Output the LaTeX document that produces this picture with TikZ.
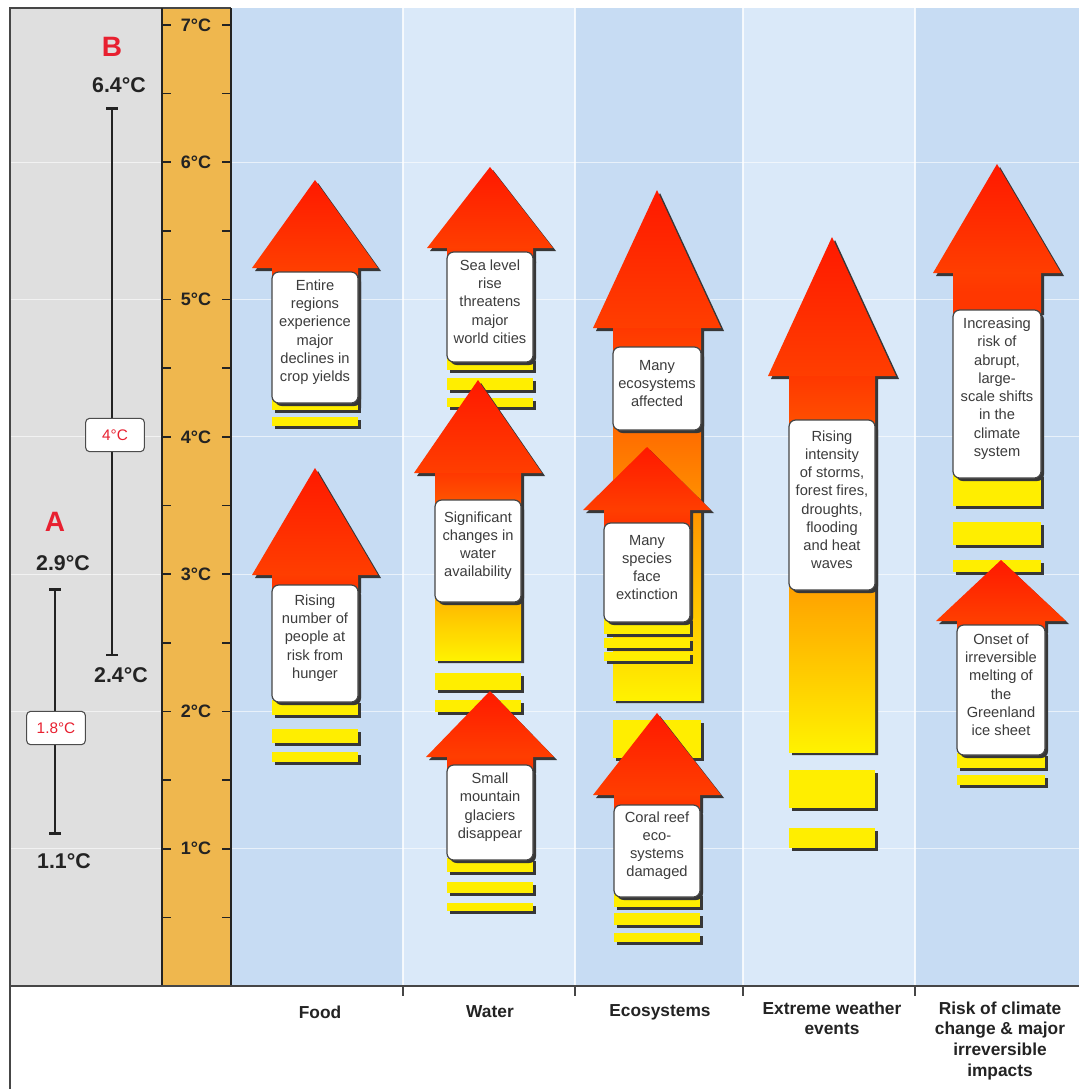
\documentclass[tikz,border=0pt]{standalone}
\usepackage{fontspec}
\setmainfont{Liberation Sans}
\usetikzlibrary{fit,arrows.meta}

\definecolor{greyp}{RGB}{223,223,223}
\definecolor{orangep}{RGB}{239,183,78}
\definecolor{bluem}{RGB}{199,220,243}
\definecolor{bluel}{RGB}{218,233,249}
\definecolor{headtop}{RGB}{255,25,0}
\definecolor{headbot}{RGB}{255,62,0}
\definecolor{shadowc}{RGB}{55,55,55}
\definecolor{yelbarc}{RGB}{255,238,0}
\definecolor{redlab}{RGB}{232,32,48}
\definecolor{txt}{RGB}{35,35,35}
\definecolor{boxtxt}{RGB}{60,60,60}
\definecolor{framec}{RGB}{70,70,70}
\definecolor{orng}{RGB}{255,150,0}
\definecolor{redor}{RGB}{255,55,0}
\definecolor{yel}{RGB}{255,242,0}

\tikzset{
  ibox/.style={draw=framec, line width=0.9pt, fill=white, rounded corners=5pt,
    inner sep=0pt, align=center, text=boxtxt, font=\fontsize{11}{13.7}\selectfont},
  numlab/.style={font=\bfseries\fontsize{16}{16}\selectfont, text=txt},
  axlab/.style={font=\bfseries\fontsize{13.5}{13.5}\selectfont, text=txt},
  biglet/.style={font=\bfseries\fontsize{21}{21}\selectfont, text=redlab},
  degbox/.style={draw=gray!60!black, line width=0.8pt, fill=white, rounded corners=3pt,
    minimum width=44pt, minimum height=25pt, inner sep=1pt, text=redlab,
    font=\fontsize{11.5}{11.5}\selectfont},
  ebar/.style={draw=txt, line width=2pt, {Bar[width=9pt]}-{Bar[width=9pt]}},
  catlab/.style={font=\bfseries\fontsize{13}{15.5}\selectfont, align=center, text=txt},
  ticky/.style={draw=txt, line width=1.2pt},
}

% cx, apex y, base y, head half width, shaft half width, shaft bottom, shaft colours (top, bottom, middle)
\newcommand\bigarrow[9]{%
  \fill[shadowc,shift={(3,3)}] (#1,#2) -- ({#1+#4},#3) -- ({#1+#5},#3) -- ({#1+#5},#6)
     -- ({#1-#5},#6) -- ({#1-#5},#3) -- ({#1-#4},#3) -- cycle;
  \shade[top color=#7,bottom color=#9,middle color=#8] ({#1-#5},{#3-1}) rectangle ({#1+#5},#6);
  \shade[top color=headtop,bottom color=headbot] (#1,#2) -- ({#1+#4},#3) -- ({#1-#4},#3) -- cycle;
}
% x1, x2, y1, y2
\newcommand\yelbar[4]{%
  \fill[shadowc] ({#1+3},{#3+3}) rectangle ({#2+3},{#4+3});
  \fill[fill=yelbarc] (#1,#3) rectangle (#2,#4);
}
% name, x1, y1, x2, y2, text
\newcommand\tbox[6]{%
  \fill[shadowc,rounded corners=5pt] ({#2+3},{#3+3}) rectangle ({#4+3},{#5+3});
  \node[ibox,fit={(#2,#3) (#4,#5)}] (#1) {#6};
}

\begin{document}
\begin{tikzpicture}[x=0.75pt,y=-0.75pt]
\useasboundingbox (0,0) rectangle (1079,1089);
\fill[white] (0,0) rectangle (1079,1089);

% panels
\fill[greyp] (10,8) rectangle (162,986);
\fill[orangep] (162,8) rectangle (231,986);
\fill[bluem] (231,8) rectangle (403,986);
\fill[bluel] (403,8) rectangle (575,986);
\fill[bluem] (575,8) rectangle (743,986);
\fill[bluel] (743,8) rectangle (915,986);
\fill[bluem] (915,8) rectangle (1079,986);

% faint grid lines
\foreach \t in {1,...,6} {
  \draw[white, opacity=0.6, line width=0.8pt] (10,{986-137.3*\t}) -- (162,{986-137.3*\t});
  \draw[white, opacity=0.6, line width=0.8pt] (231,{986-137.3*\t}) -- (1079,{986-137.3*\t});
}
\foreach \xx in {403,575,743,915}
  \draw[white, opacity=0.8, line width=1.2pt] (\xx,8) -- (\xx,986);

% frame
\draw[framec, line width=1.2pt] (10,1089) -- (10,8) -- (231,8);
\draw[txt, line width=1.2pt] (162,8) -- (162,986);
\draw[txt, line width=1.2pt] (231,8) -- (231,986);
\draw[framec, line width=1.5pt] (10,986) -- (1079,986);
\foreach \xx in {403,575,743,915}
  \draw[framec, line width=1.2pt] (\xx,986) -- (\xx,996);

% temperature scale
\foreach \t in {0.5,1,...,7} {
  \draw[ticky] (162,{986-137.3*\t}) -- ++(9,0);
  \draw[ticky] (231,{986-137.3*\t}) -- ++(-9,0);
}
\foreach \t in {1,...,7}
  \node[axlab] (ax\t) at (196,{986-137.3*\t}) {\t°C};

% left ranges
\node[biglet] (labB) at (112,47) {B};
\node[numlab] (t64) at (119,85) {6.4°C};
\coordinate (btop) at (112,{986-137.3*6.4});
\coordinate (bbot) at (112,{986-137.3*2.4});
\draw[ebar] (btop) -- (bbot);
\node[degbox] (b4) at (115,435) {4°C};
\node[numlab] (t24) at (121,675) {2.4°C};

\node[biglet] (labA) at (55,522) {A};
\node[numlab] (t29) at (63,563) {2.9°C};
\coordinate (atop) at (55,{986-137.3*2.9});
\coordinate (abot) at (55,{986-137.3*1.1});
\draw[ebar] (atop) -- (abot);
\node[degbox] (a18) at (56,728) {1.8°C};
\node[numlab] (t11) at (64,861) {1.1°C};

% ---- Food
\bigarrow{315}{180}{268}{63}{43}{405}{headbot}{redor}{redor}
\yelbar{272}{358}{400}{410}
\yelbar{272}{358}{417}{426}
\tbox{food1}{272}{272}{358}{403}{Entire\\regions\\experience\\major\\declines in\\crop yields}

\bigarrow{315}{468}{575}{63}{43}{590}{headbot}{redor}{redor}
\yelbar{272}{358}{700}{715}
\yelbar{272}{358}{729}{743}
\yelbar{272}{358}{752}{762}
\tbox{food2}{272}{585}{358}{702}{Rising\\number of\\people at\\risk from\\hunger}

% ---- Water
\bigarrow{490}{167}{248}{63}{43}{260}{headbot}{redor}{redor}
\yelbar{447}{533}{358}{370}
\yelbar{447}{533}{378}{390}
\yelbar{447}{533}{398}{407}
\tbox{water1}{447}{252}{533}{362}{Sea level\\rise\\threatens\\major\\world cities}

\bigarrow{478}{380}{473}{64}{43}{660}{redor}{orng}{yel}
\yelbar{435}{521}{673}{690}
\yelbar{435}{521}{700}{712}
\tbox{water2}{435}{500}{521}{602}{Significant\\changes in\\water\\availability}

\bigarrow{490}{691}{757}{64}{43}{770}{headbot}{redor}{redor}
\yelbar{447}{533}{858}{872}
\yelbar{447}{533}{882}{893}
\yelbar{447}{533}{903}{911}
\tbox{water3}{447}{765}{533}{860}{Small\\mountain\\glaciers\\disappear}

% ---- Ecosystems
\bigarrow{657}{190}{328}{64}{44}{700}{redor}{orng}{yel}
\tbox{eco1}{613}{347}{701}{430}{Many\\ecosystems\\affected}

\bigarrow{647}{447}{510}{64}{43}{530}{headbot}{redor}{redor}
\yelbar{604}{690}{618}{634}
\yelbar{604}{690}{638}{648}
\yelbar{604}{690}{652}{661}
\tbox{eco2}{604}{523}{690}{622}{Many\\species\\face\\extinction}

\yelbar{613}{701}{720}{758}
\bigarrow{657}{713}{795}{64}{43}{810}{headbot}{redor}{redor}
\yelbar{614}{700}{893}{907}
\yelbar{614}{700}{913}{925}
\yelbar{614}{700}{933}{942}
\tbox{eco3}{614}{805}{700}{897}{Coral reef\\eco-\\systems\\damaged}

% ---- Extreme weather
\bigarrow{832}{237}{376}{64}{43}{752}{redor}{orng}{yel}
\yelbar{789}{875}{770}{808}
\yelbar{789}{875}{828}{848}
\tbox{ext}{789}{420}{875}{590}{Rising\\intensity\\of storms,\\forest fires,\\droughts,\\flooding\\and heat\\waves}

% ---- Risk
\bigarrow{997}{164}{273}{64}{44}{312}{headbot}{redor}{redor}
\yelbar{953}{1041}{474}{506}
\yelbar{953}{1041}{522}{545}
\yelbar{953}{1041}{560}{572}
\tbox{risk1}{953}{310}{1041}{478}{Increasing\\risk of\\abrupt,\\large-\\scale shifts\\in the\\climate\\system}

\bigarrow{1001}{560}{621}{65}{44}{630}{headbot}{redor}{redor}
\yelbar{957}{1045}{753}{768}
\yelbar{957}{1045}{775}{785}
\tbox{risk2}{957}{625}{1045}{755}{Onset of\\irreversible\\melting of\\the\\Greenland\\ice sheet}

% ---- category labels
\node[catlab] (cFood) at (320,1012) {Food};
\node[catlab] (cWater) at (490,1012) {Water};
\node[catlab] (cEco) at (660,1012) {Ecosystems};
\node[catlab, anchor=north] (cExt) at (832,997) {Extreme weather\\events};
\node[catlab, anchor=north] (cRisk) at (1000,997) {Risk of climate\\change \& major\\irreversible\\impacts};
\end{tikzpicture}
\end{document}
